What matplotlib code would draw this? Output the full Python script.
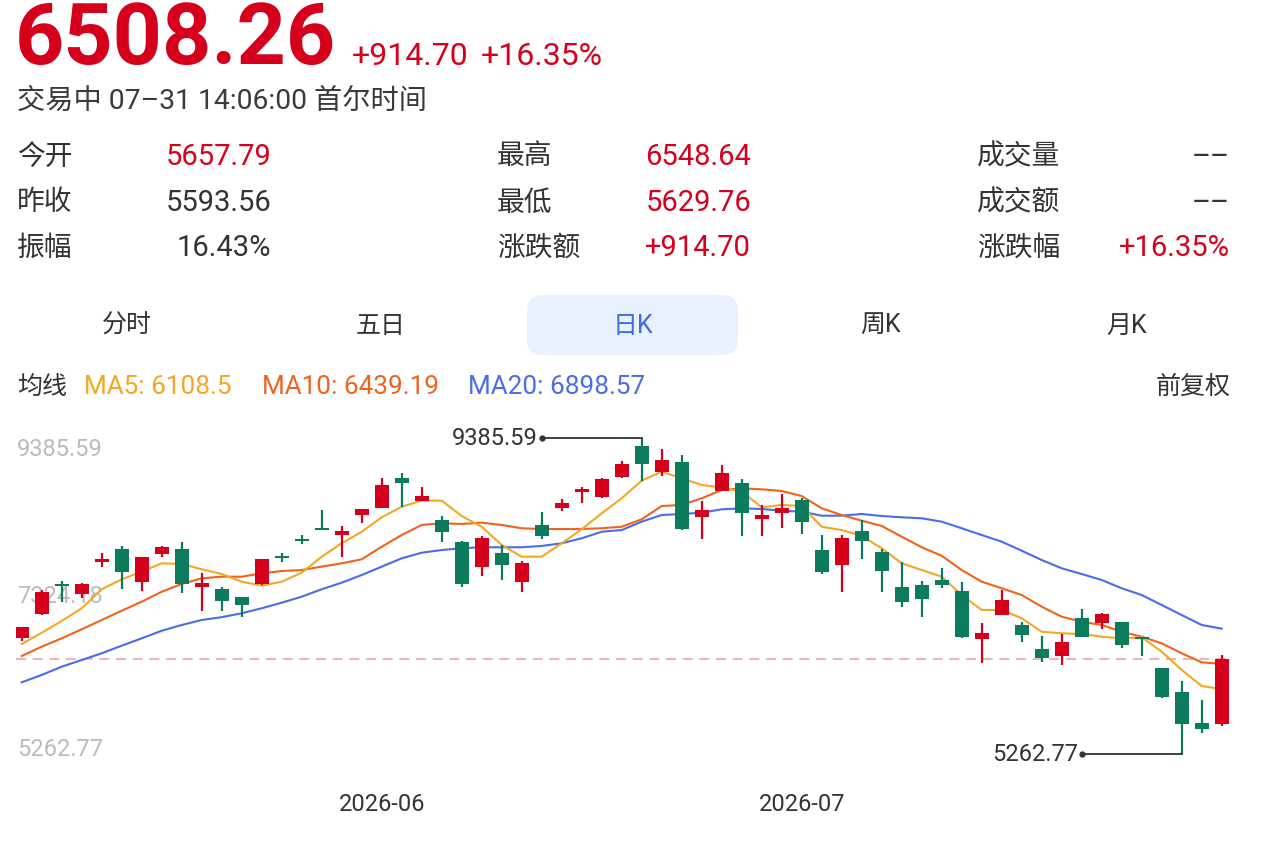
import numpy as np
import matplotlib
matplotlib.use('Agg')
import matplotlib.pyplot as plt
from matplotlib.patches import FancyBboxPatch

plt.rcParams['font.family'] = ['Roboto', 'Noto Sans CJK SC', 'DejaVu Sans']

# 行情数据 (日K, 2026-05 ~ 2026-07-31)
opens = [6780, 7089, 7481, 7350, 7774, 7937, 7503, 7868, 7937, 7438,
         7412, 7307, 7481, 7837, 8064, 8215, 8120, 8377, 8476, 8868,
         8568, 8316, 8033, 7699, 7889, 7503, 8251, 8468, 8681, 8620,
         8881, 9281, 8946, 9069, 8351, 8698, 8802, 8325, 8411, 8577,
         7924, 7729, 8172, 7902, 7438, 7468, 7533, 7393, 6763, 7076,
         6946, 6629, 6545, 7033, 6968, 6981, 6785, 6389, 6068, 5663,
         5657.79]
closes = [6924, 7372, 7455, 7481, 7813, 7633, 7829, 7967, 7481, 7498,
          7259, 7207, 7803, 7816, 8042, 8194, 8176, 8459, 8772, 8795,
          8625, 8155, 7477, 8085, 7729, 7751, 8111, 8534, 8716, 8851,
          9046, 9046, 9099, 8198, 8446, 8925, 8403, 8381, 8468, 8294,
          7641, 8077, 8046, 7650, 7242, 7285, 7468, 6793, 6845, 7272,
          6815, 6511, 6728, 6793, 7085, 6685, 6759, 6010, 5654, 5593.56,
          6508.26]
highs = [6926, 7403, 7524, 7500, 7881, 7977, 7837, 7977, 8033, 7620,
         7446, 7315, 7811, 7881, 8120, 8446, 8238, 8459, 8860, 8925,
         8750, 8372, 8040, 8107, 7990, 7785, 8424, 8590, 8742, 8860,
         9089, 9385.59, 9238, 9164, 8568, 9033, 8847, 8512, 8655, 8607,
         8120, 8120, 8316, 7934, 7772, 7524, 7690, 7511, 6968, 7403,
         6981, 6802, 6828, 7151, 7099, 6989, 6790, 6389, 6219, 5967,
         6548.64]
lows = [6737, 7080, 7250, 7302, 7707, 7416, 7393, 7829, 7367, 7132,
        7132, 7054, 7474, 7772, 7999, 8190, 7829, 8273, 8476, 8489,
        8568, 8033, 7438, 7589, 7533, 7380, 8068, 8437, 8534, 8599,
        8860, 8829, 8894, 8190, 8068, 8698, 8111, 8111, 8215, 8133,
        7611, 7372, 7803, 7380, 7177, 7054, 7425, 6780, 6446, 7076,
        6720, 6467, 6424, 6793, 6890, 6642, 6545, 5990, 5262.77, 5541,
        5629.76]

# 均线
ma5 = [6698, 6845, 6998, 7164, 7412, 7542, 7641, 7751, 7742, 7673,
       7611, 7511, 7459, 7511, 7628, 7837, 8012, 8163, 8351, 8489,
       8568, 8568, 8368, 8228, 7990, 7837, 7837, 8012, 8194, 8403,
       8599, 8829, 8946, 8860, 8772, 8742, 8685, 8481, 8512, 8498,
       8228, 8185, 8107, 7947, 7751, 7663, 7576, 7337, 7142, 7142,
       7033, 6858, 6838, 6828, 6793, 6772, 6785, 6598, 6359, 6150,
       6108.5]
ma10 = [6541, 6663, 6772, 6890, 7011, 7132, 7250, 7380, 7481, 7555,
        7576, 7576, 7620, 7650, 7663, 7707, 7751, 7803, 7967, 8120,
        8251, 8273, 8264, 8281, 8251, 8208, 8198, 8198, 8198, 8208,
        8228, 8325, 8498, 8512, 8599, 8707, 8729, 8716, 8694, 8629,
        8468, 8381, 8307, 8238, 8098, 7960, 7849, 7663, 7511, 7425,
        7337, 7185, 7054, 6989, 6946, 6858, 6793, 6707, 6577, 6459,
        6439.19]
ma20 = [6198, 6294, 6402, 6489, 6577, 6676, 6772, 6871, 6946, 7011,
        7048, 7099, 7164, 7237, 7315, 7412, 7498, 7598, 7707, 7816,
        7889, 7924, 7947, 7960, 7960, 7960, 7977, 8012, 8077, 8163,
        8185, 8294, 8381, 8394, 8411, 8455, 8468, 8459, 8437, 8424,
        8372, 8372, 8394, 8368, 8351, 8338, 8294, 8208, 8120, 8033,
        7915, 7794, 7686, 7611, 7533, 7425, 7337, 7207, 7076, 6946,
        6898.57]

month_idx = [18, 39]
month_labels = ['2026-06', '2026-07']

# 顶部信息
last_price = '6508.26'
change = '+914.70'
change_pct = '+16.35%'
status = '交易中 07\u201331 14:06:00 首尔时间'
info_labels = [['今开', '最高', '成交量'],
               ['昨收', '最低', '成交额'],
               ['振幅', '涨跌额', '涨跌幅']]
info_values = [['5657.79', '6548.64', '\u2013\u2013'],
               ['5593.56', '5629.76', '\u2013\u2013'],
               ['16.43%', '+914.70', '+16.35%']]
info_red = [[True, True, False],
            [False, True, False],
            [False, True, True]]
tabs = ['分时', '五日', '日K', '周K', '月K']
tab_active = 2

RED = '#D6001C'
GREEN = '#0B7A5D'
DARK = '#333333'
C_MA5 = '#F5A623'
C_MA10 = '#F0631E'
C_MA20 = '#4A6CEA'

W, H = 1266, 846
fig = plt.figure(figsize=(W / 100, H / 100), dpi=100)

# 像素坐标的背景层
ov = fig.add_axes([0, 0, 1, 1], zorder=0)
ov.set_xlim(0, W)
ov.set_ylim(H, 0)
ov.axis('off')

ov.text(15, 64, last_price, fontsize=62, fontweight='bold', color=RED, va='baseline')
ov.text(352, 65, change, fontsize=23, color=RED, va='baseline')
ov.text(481, 65, change_pct, fontsize=23, color=RED, va='baseline')
ov.text(17, 101, status, fontsize=20.3, color='#3a3a3a', va='center')

label_x = [17, 497, 977]
value_x = [271, 751, 1230]
row_y = [157, 203, 248]
for r in range(3):
    for c in range(3):
        ov.text(label_x[c], row_y[r], info_labels[r][c], fontsize=20, color=DARK, va='center')
        ov.text(value_x[c], row_y[r], info_values[r][c], fontsize=21, ha='right', va='center',
                color=RED if info_red[r][c] else DARK)

tab_x = [127, 381, 633, 880, 1127]
box = FancyBboxPatch((527, 295), 211, 60, boxstyle='round,pad=0,rounding_size=16',
                     fc='#E7F2FE', ec='none')
ov.add_patch(box)
for i, t in enumerate(tabs):
    ov.text(tab_x[i], 326, t, fontsize=18, ha='center', va='center',
            color='#3F6BE3' if i == tab_active else DARK)

ov.text(17, 387, '均线', fontsize=18, color=DARK, va='center')
ov.text(84, 387, f'MA5: {ma5[-1]}', fontsize=18.8, color=C_MA5, va='center')
ov.text(262, 387, f'MA10: {ma10[-1]}', fontsize=18.8, color=C_MA10, va='center')
ov.text(468, 387, f'MA20: {ma20[-1]}', fontsize=18.8, color=C_MA20, va='center')
ov.text(1231, 387, '前复权', fontsize=18, color=DARK, va='center', ha='right')

# K线图
opens = np.array(opens)
closes = np.array(closes)
highs = np.array(highs)
lows = np.array(lows)
idx = np.arange(len(closes))

top_val = highs.max()
bot_val = lows.min()
scale = (top_val - bot_val) / (754 - 438)

ax = fig.add_axes([16 / W, 1 - 780 / H, 1216 / W, 350 / H], zorder=1)
ax.set_facecolor('none')
ax.set_xlim(-0.285, len(closes) - 0.485)
ax.set_ylim(bot_val - 26 * scale, top_val + 8 * scale)
for s in ax.spines.values():
    s.set_visible(False)
ax.set_yticks([])

ax.axhline(closes[-1], color='#F3A3A3', lw=1.2, dashes=(6, 4), zorder=1)

ax.plot(idx, ma20, color=C_MA20, lw=1.5, zorder=2)
ax.plot(idx, ma10, color=C_MA10, lw=1.5, zorder=2)
ax.plot(idx, ma5, color=C_MA5, lw=1.5, zorder=2)

up = closes >= opens
colors = np.where(up, RED, GREEN)
body_h = np.maximum(np.abs(closes - opens), 2 * scale)
body_bottom = (opens + closes) / 2 - body_h / 2
ax.vlines(idx, lows, highs, colors=colors, lw=1.6, zorder=3)
ax.bar(idx, body_h, bottom=body_bottom, width=0.7, color=colors, lw=0, zorder=4)

# 最高/最低标注
imax = int(np.argmax(highs))
imin = int(np.argmin(lows))
for i, v in [(imax, highs[imax]), (imin, lows[imin])]:
    ax.plot([i - 5, i], [v, v], color=DARK, lw=1.3, zorder=5)
    ax.plot(i - 5, v, 'o', ms=3.5, color=DARK, zorder=5)
    ax.text(i - 5.2, v, f'{v:.2f}', ha='right', va='center', fontsize=17, color=DARK, zorder=5)

# 价格刻度
ytr = ax.get_yaxis_transform()
for v, dy in [(top_val, -8.5), ((top_val + bot_val) / 2, 0), (bot_val, 3.5)]:
    ax.annotate(f'{v:.2f}', xy=(0.001, v), xycoords=ytr, xytext=(0, dy),
                textcoords='offset points', va='center', ha='left',
                fontsize=17, color='#BBBBBB', zorder=0)

ax.set_xticks(month_idx, month_labels)
ax.tick_params(axis='x', length=0, pad=9, labelsize=17, labelcolor=DARK)

fig.savefig('out.png', dpi=100)
